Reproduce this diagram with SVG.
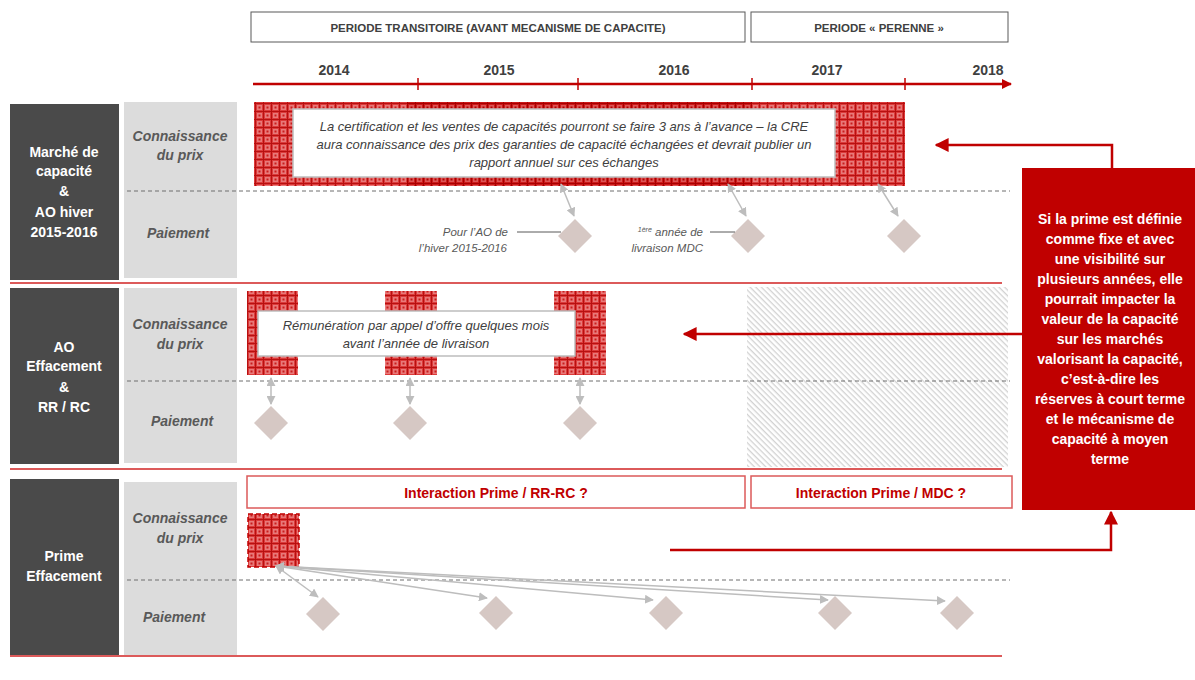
<svg xmlns="http://www.w3.org/2000/svg" width="1195" height="680" viewBox="0 0 1195 680">
<defs>
<pattern id="hatchL" width="8" height="8" patternUnits="userSpaceOnUse">
<rect width="8" height="8" fill="#dc3b3b"/>
<rect x="1" y="1" width="5" height="5" fill="#e87a7a"/>
<rect x="2.5" y="2.5" width="2" height="2" fill="#c81e1e"/>
<rect x="7" y="0" width="1" height="8" fill="#b81010"/>
<rect x="0" y="7" width="8" height="1" fill="#b81010"/>
</pattern>
<pattern id="hatchD" width="8" height="8" patternUnits="userSpaceOnUse">
<rect width="8" height="8" fill="#cc1a1a"/>
<rect x="1" y="1" width="5" height="5" fill="#dd5555"/>
<rect x="2.5" y="2.5" width="2" height="2" fill="#b00000"/>
<rect x="7" y="0" width="1" height="8" fill="#a80000"/>
<rect x="0" y="7" width="8" height="1" fill="#a80000"/>
</pattern>
<pattern id="diag" width="4" height="4" patternUnits="userSpaceOnUse" patternTransform="rotate(45)">
<rect width="4" height="4" fill="#ffffff"/>
<rect x="0" y="0" width="4" height="1.3" fill="#d2d2d2"/>
</pattern>
<marker id="gArrow" viewBox="0 0 10 10" refX="9" refY="5" markerWidth="9" markerHeight="9" markerUnits="userSpaceOnUse" orient="auto-start-reverse">
<path d="M0,0 L10,5 L0,10 z" fill="#bdbdbd"/>
</marker>
<marker id="rArrow" viewBox="0 0 10 10" refX="9" refY="5" markerWidth="14" markerHeight="14" markerUnits="userSpaceOnUse" orient="auto">
<path d="M0,0 L10,5 L0,10 z" fill="#c00000"/>
</marker>
<marker id="tArrow" viewBox="0 0 10 10" refX="9" refY="5" markerWidth="10" markerHeight="10" markerUnits="userSpaceOnUse" orient="auto">
<path d="M0,0 L10,5 L0,10 z" fill="#c00000"/>
</marker>
</defs>
<style>
.hdr{fill:#fff;stroke:#595959;stroke-width:1}
.hdrt{font-family:"Liberation Sans",Arial,sans-serif;font-size:11.5px;font-weight:bold;fill:#404040;text-anchor:middle}
.yr{font-family:"Liberation Sans",Arial,sans-serif;font-size:14px;font-weight:bold;fill:#404040;text-anchor:middle}
.dark{fill:#4a4a4a}
.light{fill:#dcdcdc}
.rowt{font-family:"Liberation Sans",Arial,sans-serif;font-size:14px;font-weight:bold;fill:#ffffff;text-anchor:middle}
.subt{font-family:"Liberation Sans",Arial,sans-serif;font-size:14px;font-weight:bold;font-style:italic;fill:#595959;text-anchor:middle}
.sep{stroke:#dc5a5a;stroke-width:2}
.dash{stroke:#6f6f6f;stroke-width:1;stroke-dasharray:4 3}
.box{fill:#fff;stroke:#bdbdbd;stroke-width:1.5}
.boxt{font-family:"Liberation Sans",Arial,sans-serif;font-size:13px;font-style:italic;fill:#404040;text-anchor:middle}
.lbl{font-family:"Liberation Sans",Arial,sans-serif;font-size:11.5px;font-style:italic;fill:#595959;text-anchor:end}
.dia{fill:#d6c8c4}
.ga{stroke:#bdbdbd;stroke-width:1.5;fill:none;marker-start:url(#gArrow);marker-end:url(#gArrow)}
.ibox{fill:#fff;stroke:#dc5a5a;stroke-width:1.5}
.it{font-family:"Liberation Sans",Arial,sans-serif;font-size:14px;font-weight:bold;fill:#c00000;text-anchor:middle}
.ra{stroke:#c00000;stroke-width:2.5;fill:none}
.callt{font-family:"Liberation Sans",Arial,sans-serif;font-size:14px;font-weight:bold;fill:#ffffff;text-anchor:middle}
</style>

<g id="header">
<rect class="hdr" x="251" y="12" width="494" height="30"/>
<text class="hdrt" x="498" y="31.5">PERIODE TRANSITOIRE (AVANT MECANISME DE CAPACITE)</text>
<rect class="hdr" x="751" y="12" width="257" height="30"/>
<text class="hdrt" x="879" y="31.5">PERIODE « PERENNE »</text>
</g>

<g id="timeline">
<text class="yr" x="334" y="75">2014</text>
<text class="yr" x="499" y="75">2015</text>
<text class="yr" x="674" y="75">2016</text>
<text class="yr" x="827" y="75">2017</text>
<text class="yr" x="988" y="75">2018</text>
<line x1="253" y1="84" x2="1011" y2="84" stroke="#c00000" stroke-width="2.5" marker-end="url(#tArrow)"/>
<line x1="418" y1="78" x2="418" y2="90" stroke="#c00000" stroke-width="1.5"/>
<line x1="578" y1="78" x2="578" y2="90" stroke="#c00000" stroke-width="1.5"/>
<line x1="752" y1="78" x2="752" y2="90" stroke="#c00000" stroke-width="1.5"/>
<line x1="905" y1="78" x2="905" y2="90" stroke="#c00000" stroke-width="1.5"/>
</g>

<g id="row1">
<rect class="dark" x="10" y="104" width="109" height="176"/>
<text class="rowt" x="64" y="157">Marché de</text>
<text class="rowt" x="64" y="176">capacité</text>
<text class="rowt" x="64" y="196">&amp;</text>
<text class="rowt" x="64" y="217">AO hiver</text>
<text class="rowt" x="64" y="237">2015-2016</text>
<rect class="light" x="124" y="102" width="113" height="176"/>
<text class="subt" x="180" y="141">Connaissance</text>
<text class="subt" x="180" y="160">du prix</text>
<text class="subt" x="178" y="238">Paiement</text>
<line class="dash" x1="127" y1="191" x2="1010" y2="191"/>
<line class="sep" x1="10" y1="283" x2="1002" y2="283"/>
</g>

<g id="row1-bar">
<rect x="254" y="102" width="153" height="84" fill="url(#hatchL)"/>
<rect x="407" y="102" width="345" height="84" fill="url(#hatchD)"/>
<rect x="752" y="102" width="153" height="84" fill="url(#hatchL)"/>
<rect class="box" x="293" y="109" width="542" height="68"/>
<text class="boxt" x="564" y="131">La certification et les ventes de capacités pourront se faire 3 ans à l’avance – la CRE</text>
<text class="boxt" x="564" y="149">aura connaissance des prix des garanties de capacité échangées et devrait publier un</text>
<text class="boxt" x="564" y="167">rapport annuel sur ces échanges</text>
</g>

<g id="row1-pay">
<polygon class="dia" points="575,219 592,236 575,253 558,236"/>
<polygon class="dia" points="748,219 765,236 748,253 731,236"/>
<polygon class="dia" points="904,219 921,236 904,253 887,236"/>
<text class="lbl" x="508" y="236">Pour l’AO de</text>
<text class="lbl" x="507" y="252">l’hiver 2015-2016</text>
<line x1="517" y1="232" x2="561" y2="232" stroke="#595959" stroke-width="1"/>
<text class="lbl" x="703" y="236"><tspan font-size="7" dy="-4">1ère</tspan><tspan dy="4"> année de</tspan></text>
<text class="lbl" x="703" y="252">livraison MDC</text>
<line x1="710" y1="232" x2="735" y2="232" stroke="#595959" stroke-width="1"/>
</g>

<g id="row2">
<rect class="dark" x="10" y="288" width="109" height="176"/>
<text class="rowt" x="64" y="352">AO</text>
<text class="rowt" x="64" y="371">Effacement</text>
<text class="rowt" x="64" y="392">&amp;</text>
<text class="rowt" x="64" y="412">RR / RC</text>
<rect class="light" x="124" y="288" width="113" height="175"/>
<text class="subt" x="180" y="329">Connaissance</text>
<text class="subt" x="180" y="349">du prix</text>
<text class="subt" x="182" y="426">Paiement</text>
<rect x="747" y="287" width="261" height="180" fill="url(#diag)"/>
<line class="dash" x1="127" y1="381" x2="1010" y2="381"/>
<line class="sep" x1="10" y1="469" x2="1002" y2="469"/>
<rect x="247" y="291" width="51" height="84" fill="url(#hatchL)"/>
<rect x="385" y="291" width="52" height="84" fill="url(#hatchL)"/>
<rect x="554" y="291" width="52" height="84" fill="url(#hatchL)"/>
<rect class="box" x="258" y="311" width="317" height="45"/>
<text class="boxt" x="416" y="330">Rémunération par appel d’offre quelques mois</text>
<text class="boxt" x="416" y="348">avant l’année de livraison</text>
<polygon class="dia" points="271,406 288,423 271,440 254,423"/>
<polygon class="dia" points="410,406 427,423 410,440 393,423"/>
<polygon class="dia" points="580,406 597,423 580,440 563,423"/>
</g>

<g id="row3">
<rect class="dark" x="10" y="479" width="109" height="176"/>
<text class="rowt" x="64" y="561">Prime</text>
<text class="rowt" x="64" y="581">Effacement</text>
<rect class="light" x="124" y="482" width="113" height="173"/>
<text class="subt" x="180" y="523">Connaissance</text>
<text class="subt" x="180" y="543">du prix</text>
<text class="subt" x="174" y="622">Paiement</text>
<line class="dash" x1="127" y1="580" x2="1010" y2="580"/>
<line class="sep" x1="10" y1="656" x2="1002" y2="656"/>
<rect class="ibox" x="247" y="476" width="498" height="32"/>
<text class="it" x="496" y="498">Interaction Prime / RR-RC ?</text>
<rect class="ibox" x="751" y="476" width="261" height="32"/>
<text class="it" x="881" y="498">Interaction Prime / MDC ?</text>
<rect x="248" y="514" width="51" height="53" fill="url(#hatchL)" stroke="#c00000" stroke-width="1.5" stroke-dasharray="5 3"/>
<polygon class="dia" points="323,597 340,614 323,631 306,614"/>
<polygon class="dia" points="496,596 513,613 496,630 479,613"/>
<polygon class="dia" points="666,596 683,613 666,630 649,613"/>
<polygon class="dia" points="835,596 852,613 835,630 818,613"/>
<polygon class="dia" points="957,596 974,613 957,630 940,613"/>
</g>

<g id="callout">
<rect x="1022" y="168" width="173" height="342" fill="#c00000"/>
<text class="callt" x="1110" y="224">Si la prime est définie</text>
<text class="callt" x="1110" y="244">comme fixe et avec</text>
<text class="callt" x="1110" y="264">une visibilité sur</text>
<text class="callt" x="1110" y="284">plusieurs années, elle</text>
<text class="callt" x="1110" y="304">pourrait impacter la</text>
<text class="callt" x="1110" y="324">valeur de la capacité</text>
<text class="callt" x="1110" y="344">sur les marchés</text>
<text class="callt" x="1110" y="364">valorisant la capacité,</text>
<text class="callt" x="1110" y="384">c’est-à-dire les</text>
<text class="callt" x="1110" y="404">réserves à court terme</text>
<text class="callt" x="1110" y="424">et le mécanisme de</text>
<text class="callt" x="1110" y="444">capacité à moyen</text>
<text class="callt" x="1110" y="464">terme</text>
</g>

<g id="connectors">
<line class="ga" x1="561" y1="184" x2="574" y2="216"/>
<line class="ga" x1="728" y1="184" x2="746" y2="216"/>
<line class="ga" x1="878" y1="184" x2="898" y2="216"/>
<line class="ga" x1="271" y1="378" x2="271" y2="404"/>
<line class="ga" x1="410" y1="378" x2="410" y2="404"/>
<line class="ga" x1="580" y1="378" x2="580" y2="404"/>
<line class="ga" x1="276" y1="566" x2="318" y2="597"/>
<line class="ga" x1="276" y1="566" x2="487" y2="598"/>
<line class="ga" x1="276" y1="566" x2="653" y2="600"/>
<line class="ga" x1="276" y1="566" x2="828" y2="600"/>
<line class="ga" x1="276" y1="566" x2="945" y2="601"/>
<polyline class="ra" points="1112,168 1112,145 936,145" marker-end="url(#rArrow)"/>
<line class="ra" x1="1022" y1="334" x2="684" y2="334" marker-end="url(#rArrow)"/>
<polyline class="ra" points="670,550 1111,550 1111,512" marker-end="url(#rArrow)"/>
</g>
</svg>
